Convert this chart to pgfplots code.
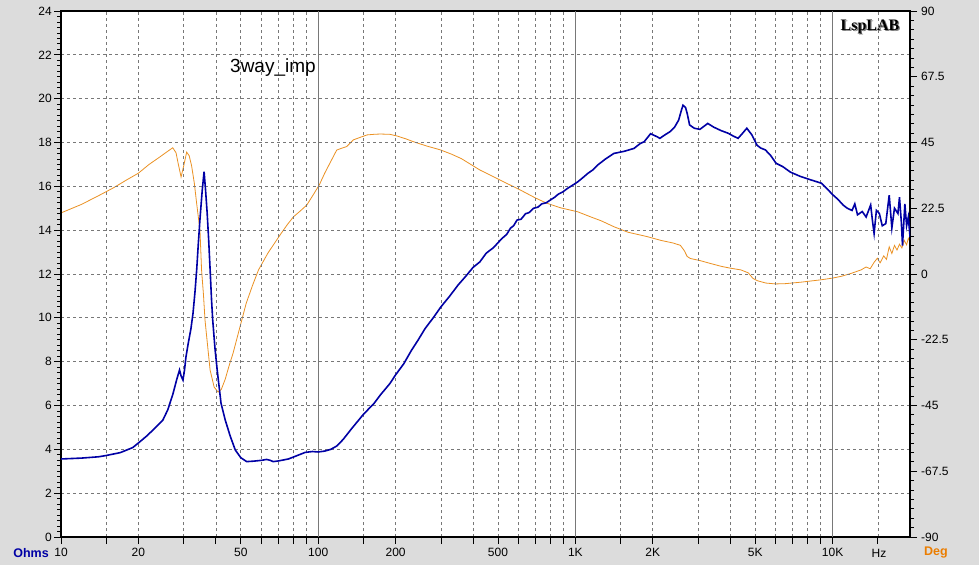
\documentclass[border=0pt]{standalone}
\usepackage{fontspec}
\setmainfont{Liberation Sans}
\newfontfamily\serifb{Liberation Serif}
\usepackage{pgfplots}
\usepackage{pgfplotstable}
\pgfplotsset{compat=1.18}
\definecolor{bgc}{RGB}{220,220,220}
\definecolor{zblue}{RGB}{0,0,165}
\definecolor{porange}{RGB}{235,145,35}
\definecolor{degorange}{RGB}{235,125,0}
\definecolor{gridc}{RGB}{120,120,120}

\pgfplotstableread{
f ohm
10 3.56
12 3.6
14 3.66
15 3.72
17 3.85
19 4.08
20 4.29
21.5 4.6
23.2 4.97
24.9 5.34
26 5.8
27.2 6.5
28.2 7.2
28.9 7.62
29.3 7.35
29.8 7.16
30.2 7.6
30.6 8.2
31.2 8.8
32 9.5
32.6 10.2
33.2 11.2
33.7 12.2
34.2 13.4
34.7 14.5
35.4 15.8
36.0 16.67
36.5 15.8
37.0 14.8
37.5 13.6
38.0 12.2
38.5 10.8
38.9 9.9
39.7 8.6
40.5 7.6
41.9 6.1
43.5 5.34
45.5 4.6
47.6 3.97
50 3.62
52.7 3.44
56 3.46
60.4 3.5
63 3.54
65 3.5
66.8 3.44
70 3.47
76.6 3.56
83 3.72
89 3.86
95 3.9
100 3.88
106 3.92
112 4.0
118 4.15
125 4.45
135 4.95
150 5.6
165 6.1
175 6.5
190 7.0
200 7.4
215 7.9
230 8.5
245 9.0
260 9.5
280 10.0
300 10.5
325 11.0
350 11.5
375 11.9
400 12.3
425 12.55
450 12.95
480 13.2
519 13.63
540 13.8
560 14.1
575 14.2
593 14.46
615 14.5
640 14.75
660 14.8
688 15.0
715 15.05
740 15.2
770 15.25
798 15.37
830 15.5
860 15.65
895 15.75
930 15.9
975 16.05
1020 16.2
1070 16.4
1120 16.6
1170 16.75
1220 16.97
1310 17.25
1410 17.5
1550 17.6
1690 17.73
1790 17.96
1850 18.03
1960 18.4
2080 18.26
2130 18.19
2230 18.35
2330 18.49
2430 18.7
2520 19.02
2580 19.45
2620 19.7
2680 19.6
2720 19.33
2780 18.8
2900 18.65
3050 18.6
3170 18.75
3270 18.87
3450 18.7
3690 18.54
3930 18.42
4100 18.3
4290 18.19
4450 18.4
4640 18.65
4860 18.34
5080 17.88
5250 17.75
5480 17.66
5750 17.4
6030 17.05
6400 16.9
6850 16.65
7500 16.45
8200 16.3
9060 16.14
10050 15.6
10500 15.4
10980 15.15
11400 15.0
11900 14.9
12200 15.2
12500 14.7
13040 14.85
13500 14.6
14060 15.15
14300 14.4
14500 13.85
14800 14.9
15200 14.76
15600 14.2
16100 14.3
16600 15.6
17000 14.1
17400 15.0
17950 14.76
18200 15.5
18500 14.4
18700 13.3
19100 15.2
19400 14.2
19700 14.6
20000 13.7
}\impdata

\pgfplotstableread{
f deg
10 20.9
12 23.8
14 26.8
16 29.5
18 32.2
20 34.5
22 37.5
24 39.8
26 42
27.2 43.2
28 41.5
28.6 37.5
29.3 33.2
30 37
30.8 41.7
31.5 40.5
32.2 37
33 31
33.7 24
34.7 15
35.2 1.4
35.8 -7
36.3 -15.7
37.2 -25
38 -32.9
39.4 -38.7
40.8 -40.4
42 -39.5
43.5 -36
45 -31.5
46.7 -27
49 -20
52.5 -10
55.5 -4
58.6 1.4
63.8 7.2
71 13.3
76 17
80.2 19.6
85 21.5
90.3 23.6
95.5 27
101 30.5
106 34.5
111 37.9
118 42.4
123 43
129 43.6
137 45.9
145 46.7
155 47.6
165 47.8
174 47.9
190 47.8
203 47.2
220 46.2
234 45.3
264 43.8
298 42.5
330 41
360 39.5
425 35.6
500 32.5
612 28.7
700 26
775 24.2
880 22.6
1020 21.3
1150 19.5
1260 18.2
1410 16.2
1600 14.3
1900 12.8
2150 11.5
2400 10.6
2560 9.8
2650 8
2720 6
2800 5.3
3050 4.6
3350 3.6
3700 2.6
4000 2.0
4400 1.4
4700 0.4
4900 -1.5
5100 -2.3
5500 -3.1
6000 -3.4
6560 -3.3
7530 -2.8
8990 -2.0
10000 -1.4
10800 -0.8
11800 0.2
12900 1.4
13500 2.4
14000 1.8
14500 4.0
14930 5.4
15300 3.8
15800 6.2
16200 5.0
16600 9.3
17000 7.0
17400 9.8
17800 8.2
18200 10.2
18600 8.9
19000 11.5
19400 10.0
19700 12.2
20000 11.0
}\phasedata

\begin{document}
\begin{tikzpicture}[x=1pt,y=1pt]
\fill[bgc] (0,0) rectangle (979,565);
% phase axis (right)
\begin{axis}[
  at={(61pt,28pt)}, anchor=south west, scale only axis,
  width=849pt, height=526pt,
  xmode=log, xmin=10, xmax=20000, ymin=-90, ymax=90,
  axis x line=none, axis y line*=right,
  axis background/.style={fill=white},
  ytick={-90,-67.5,-45,-22.5,0,22.5,45,67.5,90},
  yticklabels={-90,-67.5,-45,-22.5,0,22.5,45,67.5,90},
  minor y tick num=6,
  tick align=outside, major tick length=7pt, minor tick length=4pt,
  every tick/.style={black, line width=0.8pt},
  axis line style={black, line width=1.6pt},
  yticklabel style={font=\fontsize{12}{12}\selectfont, inner sep=2pt, xshift=2pt},
]
\addplot[porange, line width=0.8pt] table[x=f, y=deg] {\phasedata};
\end{axis}
% impedance axis (left)
\begin{axis}[
  at={(61pt,28pt)}, anchor=south west, scale only axis,
  width=849pt, height=526pt,
  xmode=log, xmin=10, xmax=20000, ymin=0, ymax=24,
  xtick={10,15,20,30,40,50,60,70,80,90,150,200,300,400,500,600,700,800,900,1500,2000,3000,4000,5000,6000,7000,8000,9000,15000},
  xticklabels={10,,20,,,50,,,,,,200,,,500,,,,,,2K,,,5K,,,,,},
  xminorticks=false,
  extra x ticks={100,1000,10000},
  extra x tick labels={100,1K,10K},
  extra x tick style={grid=major, major grid style={solid, gridc, line width=0.8pt}},
  xmajorgrids, ymajorgrids,
  major grid style={gridc, line width=0.7pt, dash pattern=on 3pt off 3pt},
  ytick={0,2,...,24},
  minor y tick num=7,
  xtick pos=left, ytick pos=left,
  tick align=outside, major tick length=7pt, minor tick length=4pt,
  every tick/.style={black, line width=0.8pt},
  axis line style={black, line width=1.6pt},
  /pgf/number format/assume math mode=true,
  ticklabel style={font=\fontsize{12}{12}\selectfont},
  yticklabel style={inner sep=2pt},
  xticklabel style={inner sep=2pt, yshift=-2pt},
]
\addplot[zblue, line width=1.6pt] table[x=f, y=ohm] {\impdata};
\end{axis}
\node[font=\bfseries\fontsize{12.5}{12.5}\selectfont, text=zblue] at (31,12) {Ohms};
\node[font=\fontsize{12}{12}\selectfont] at (879,12) {Hz};
\node[font=\bfseries\fontsize{12.5}{12.5}\selectfont, text=degorange] at (936,12) {Deg};
\node[font=\fontsize{19}{19}\selectfont, anchor=west, inner sep=0pt] at (230,497) {3way\_imp};
\node[font=\serifb\bfseries\fontsize{16}{16}\selectfont, text=gray] at (871.2,536.8) {LspLAB};
\node[font=\serifb\bfseries\fontsize{16}{16}\selectfont, text=black] at (870,538) {LspLAB};
\end{tikzpicture}
\end{document}
